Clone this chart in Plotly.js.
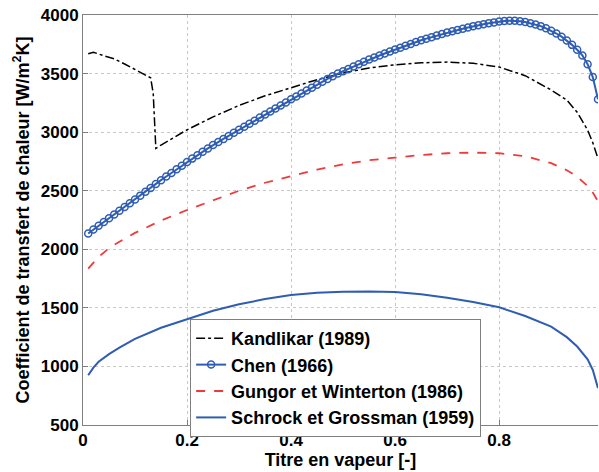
<!DOCTYPE html>
<html>
<head>
<meta charset="utf-8">
<script src="https://cdn.plot.ly/plotly-3.0.1.min.js"></script>
<style>html,body{margin:0;padding:0;background:#fff;}#chart{width:599px;height:472px;}</style>
</head>
<body>
<div id="chart"></div>
<script>
// Kandlikar (1989)
const kandX = [0.01,0.02,0.04,0.06,0.08,0.10,0.12,0.13,0.135,0.14,0.15,0.20,0.25,0.30,0.35,0.40,0.45,0.50,0.55,0.60,0.65,0.70,0.75,0.80,0.85,0.90,0.93,0.95,0.97,0.98,0.99];
const kandY = [3670,3682,3652,3626,3582,3532,3485,3464,3330,2862,2890,3020,3130,3228,3310,3382,3448,3505,3548,3575,3592,3598,3588,3556,3482,3360,3274,3170,3018,2910,2775];

// Chen (1966), one marker per 0.01 of vapour quality
const chenX = [];
for (let i = 1; i <= 99; i++) chenX.push(i / 100);
const chenY = [2135,2168,2200,2233,2265,2297,2329,2361,2393,2425,
  2458,2491,2524,2557,2590,2621,2652,2683,2714,2745,
  2774,2803,2832,2861,2890,2916,2942,2968,2994,3020,
  3046,3072,3098,3124,3150,3176,3202,3228,3254,3280,
  3305,3330,3355,3380,3405,3430,3454,3478,3500,3520,
  3540,3560,3580,3600,3620,3637,3654,3671,3688,3705,
  3721,3737,3753,3769,3785,3798,3811,3824,3837,3850,
  3861,3872,3883,3894,3905,3913,3921,3929,3937,3944,
  3949,3951,3950,3946,3940,3930,3918,3905,3886,3865,
  3842,3815,3783,3745,3703,3655,3580,3470,3280];

// Gungor et Winterton (1986)
const gungX = [0.01,0.02,0.03,0.05,0.07,0.10,0.15,0.20,0.25,0.30,0.35,0.40,0.45,0.50,0.55,0.60,0.65,0.70,0.75,0.80,0.85,0.90,0.93,0.95,0.97,0.98,0.99];
const gungY = [1835,1885,1935,2010,2065,2140,2245,2335,2420,2500,2568,2622,2680,2725,2760,2782,2805,2820,2825,2820,2795,2735,2675,2620,2540,2485,2410];

// Schrock et Grossman (1959)
const schX = [0.01,0.02,0.03,0.05,0.07,0.10,0.15,0.20,0.25,0.30,0.35,0.40,0.45,0.50,0.55,0.60,0.65,0.70,0.75,0.80,0.85,0.90,0.93,0.95,0.97,0.98,0.99];
const schY = [925,990,1040,1105,1160,1235,1330,1400,1475,1530,1575,1610,1628,1637,1640,1635,1617,1587,1550,1505,1430,1340,1250,1170,1060,970,815];

const names = ["Kandlikar (1989)","Chen (1966)","Gungor et Winterton (1986)","Schrock et Grossman (1959)"];
const xTicks = [0,0.2,0.4,0.6,0.8,1];
const yTicks = [500,1000,1500,2000,2500,3000,3500,4000];

const BLUE = "#2f5db3";
const FONT = "Liberation Sans, Arial, sans-serif";

const traces = [
  {x: kandX, y: kandY, name: names[0], mode: "lines",
   line: {color: "#000000", width: 1.5, dash: "dashdot"}},
  {x: chenX, y: chenY, name: names[1], mode: "lines+markers",
   line: {color: BLUE, width: 2},
   marker: {symbol: "circle-open", size: 7, color: BLUE, line: {width: 1.5, color: BLUE}}},
  {x: gungX, y: gungY, name: names[2], mode: "lines",
   line: {color: "#f03a3a", width: 1.8, dash: "dash"}},
  {x: schX, y: schY, name: names[3], mode: "lines",
   line: {color: BLUE, width: 2}}
];

const axisCommon = {
  showline: true, linecolor: "#7f7f7f", linewidth: 1,
  ticks: "inside", ticklen: 5, tickcolor: "#7f7f7f",
  showgrid: true, gridcolor: "#c8c8c8", griddash: "dot", gridwidth: 1,
  zeroline: false,
  tickfont: {family: FONT, size: 17, color: "#000", weight: "bold"}
};

const layout = {
  width: 599, height: 472,
  margin: {l: 83, r: 1, t: 15, b: 47},
  paper_bgcolor: "#fff", plot_bgcolor: "#fff",
  showlegend: true,
  xaxis: Object.assign({}, axisCommon, {
    range: [0, 0.99], tickvals: xTicks, ticktext: xTicks.map(String), mirror: true,
    title: {text: "Titre en vapeur [-]", standoff: 3,
            font: {family: FONT, size: 18, color: "#000", weight: "bold"}},
    automargin: false
  }),
  yaxis: Object.assign({}, axisCommon, {
    range: [500, 4000], tickvals: yTicks, ticktext: yTicks.map(String), mirror: false,
    title: {text: "Coefficient de transfert de chaleur [W/m<sup>2</sup>K]", standoff: 6,
            font: {family: FONT, size: 18, color: "#000", weight: "bold"}},
    automargin: false
  }),
  legend: {
    x: 0.208, y: 0.2585, xanchor: "left", yanchor: "top",
    bgcolor: "#ffffff", bordercolor: "#7f7f7f", borderwidth: 1,
    font: {family: FONT, size: 18, color: "#000", weight: "bold"},
    tracegroupgap: 0
  }
};

Plotly.newPlot("chart", traces, layout, {staticPlot: true, displayModeBar: false});
</script>
</body>
</html>
